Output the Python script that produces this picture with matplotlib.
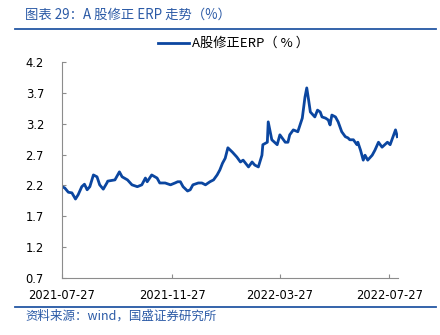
import matplotlib.pyplot as plt
import matplotlib.dates as mdates
import pandas as pd

plt.rcParams['font.family'] = ['Noto Sans CJK SC', 'DejaVu Sans']

dates = [
    '2021-07-27', '2021-07-30', '2021-08-03', '2021-08-07', '2021-08-11', '2021-08-14',
    '2021-08-18', '2021-08-21', '2021-08-24', '2021-08-27', '2021-08-31', '2021-09-04',
    '2021-09-07', '2021-09-11', '2021-09-15', '2021-09-16', '2021-09-24', '2021-09-29',
    '2021-10-02', '2021-10-08', '2021-10-13', '2021-10-19', '2021-10-24', '2021-10-28',
    '2021-10-30', '2021-11-04', '2021-11-10', '2021-11-13', '2021-11-19', '2021-11-25',
    '2021-11-30', '2021-12-03', '2021-12-06', '2021-12-09', '2021-12-14', '2021-12-17',
    '2021-12-20', '2021-12-26', '2021-12-30', '2022-01-03', '2022-01-08', '2022-01-12',
    '2022-01-16', '2022-01-19', '2022-01-22', '2022-01-25', '2022-01-28', '2022-02-02',
    '2022-02-07', '2022-02-11', '2022-02-14', '2022-02-20', '2022-02-24', '2022-02-27',
    '2022-03-03', '2022-03-07', '2022-03-08', '2022-03-13', '2022-03-14', '2022-03-18',
    '2022-03-24', '2022-03-27', '2022-04-02', '2022-04-05', '2022-04-07', '2022-04-11',
    '2022-04-16', '2022-04-21', '2022-04-24', '2022-04-26', '2022-04-28', '2022-04-30',
    '2022-05-05', '2022-05-08', '2022-05-11', '2022-05-13', '2022-05-17', '2022-05-20',
    '2022-05-22', '2022-05-24', '2022-05-28', '2022-05-31', '2022-06-04', '2022-06-08',
    '2022-06-11', '2022-06-13', '2022-06-17', '2022-06-21', '2022-06-22', '2022-06-25',
    '2022-06-28', '2022-06-30', '2022-07-03', '2022-07-08', '2022-07-11', '2022-07-15',
    '2022-07-19', '2022-07-25', '2022-07-28', '2022-07-30', '2022-08-03', '2022-08-05',
]
erp = [
    2.18, 2.16, 2.09, 2.08, 1.98, 2.05,
    2.18, 2.22, 2.13, 2.18, 2.37, 2.34,
    2.21, 2.14, 2.24, 2.27, 2.29, 2.42,
    2.34, 2.29, 2.21, 2.18, 2.21, 2.32,
    2.26, 2.37, 2.32, 2.24, 2.24, 2.21,
    2.24, 2.26, 2.26, 2.18, 2.11, 2.13,
    2.21, 2.24, 2.24, 2.21, 2.26, 2.29,
    2.37, 2.45, 2.56, 2.64, 2.81, 2.74,
    2.66, 2.58, 2.61, 2.50, 2.58, 2.53,
    2.50, 2.69, 2.86, 2.90, 3.23, 2.94,
    2.86, 3.02, 2.90, 2.90, 3.02, 3.10,
    3.07, 3.29, 3.63, 3.78, 3.59, 3.39,
    3.31, 3.42, 3.39, 3.31, 3.29, 3.26,
    3.18, 3.34, 3.31, 3.23, 3.07, 2.99,
    2.97, 2.94, 2.94, 2.86, 2.90, 2.77,
    2.61, 2.69, 2.61, 2.69, 2.77, 2.90,
    2.82, 2.90, 2.86, 2.94, 3.10, 2.99,
]
x_ticks = ['2021-07-27', '2021-11-27', '2022-03-27', '2022-07-27']
y_ticks = [0.7, 1.2, 1.7, 2.2, 2.7, 3.2, 3.7, 4.2]

blue = '#0b46a0'
title_blue = '#2b5aa6'
rule_blue = '#2457a4'

fig = plt.figure(figsize=(4.4, 3.35), dpi=100)
ax = fig.add_axes([0.141, 0.170, 0.764, 0.645])

ax.plot(pd.to_datetime(dates), erp, color=blue, linewidth=2.0,
        label='A股修正ERP（ % ）')

ax.set_xlim(pd.Timestamp('2021-07-27'), pd.Timestamp('2022-08-06'))
ax.set_ylim(0.7, 4.2)
ax.set_xticks(pd.to_datetime(x_ticks))
ax.xaxis.set_major_formatter(mdates.DateFormatter('%Y-%m-%d'))
ax.set_yticks(y_ticks)
ax.set_yticklabels([f'{v:.1f}' for v in y_ticks])

for side in ['top', 'right']:
    ax.spines[side].set_visible(False)
for side in ['left', 'bottom']:
    ax.spines[side].set_color('#8c8c8c')
    ax.spines[side].set_linewidth(0.8)
ax.tick_params(axis='x', direction='in', length=3, color='#8c8c8c',
               labelsize=8.3, pad=8, labelfontfamily='DejaVu Sans')
ax.tick_params(axis='y', direction='in', length=3, color='#8c8c8c',
               labelsize=8.3, pad=13, labelfontfamily='DejaVu Sans')

ax.legend(loc='lower center', bbox_to_anchor=(0.51, 1.03), frameon=False,
          fontsize=9.5, handlelength=2.4, handletextpad=0.2, borderaxespad=0)

# header and footer
fig.text(0.057, 0.955, '图表 29：A 股修正 ERP 走势（%）', color=title_blue,
         fontsize=9.6, style='italic', ha='left', va='center')
fig.add_artist(plt.Line2D([0.034, 0.99], [0.913, 0.913], color=rule_blue,
                          linewidth=1.3, transform=fig.transFigure))
fig.add_artist(plt.Line2D([0.034, 0.99], [0.084, 0.084], color=rule_blue,
                          linewidth=1.3, transform=fig.transFigure))
fig.text(0.057, 0.055, '资料来源：wind，国盛证券研究所', color=title_blue,
         fontsize=9, style='italic', ha='left', va='center')

fig.savefig('out.png', dpi=100)
